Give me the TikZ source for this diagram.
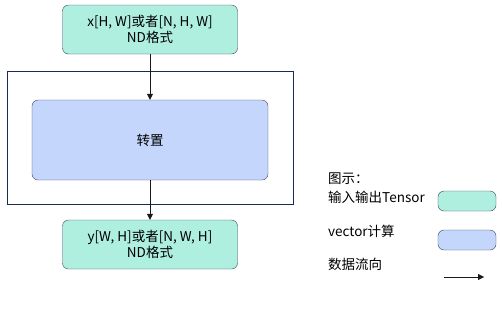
\documentclass[tikz,border=0pt]{standalone}
\usepackage{fontspec}
\setmainfont{Noto Sans CJK SC}
\usetikzlibrary{arrows.meta}

\begin{document}
\begin{tikzpicture}[x=1pt,y=-1pt,font=\fontsize{13.5}{15.5}\selectfont]
  \definecolor{tensorfill}{HTML}{AEEFE0}
  \definecolor{calcfill}{HTML}{C4D6FC}
  \definecolor{framecol}{HTML}{1B2A55}
  \definecolor{boxline}{HTML}{3A4656}
  \tikzset{tensor box/.style={draw=boxline, fill=tensorfill, rounded corners=6, inner sep=0, align=center},
    calc box/.style={draw=boxline, fill=calcfill, rounded corners=6, inner sep=0, align=center},
    flow/.style={-{Triangle[length=6,width=6]}, draw=black!90}}
  \useasboundingbox (0,0) rectangle (502,335);
  \node(frame) at (150,137.5) [draw=framecol, minimum width=286, minimum height=133, inner sep=0] {};
  \node(in) at (150,29.5) [tensor box, minimum width=175, minimum height=49] {x[H, W]或者[N, H, W]\\ND格式};
  \node(tr) at (150,140) [calc box, minimum width=236, minimum height=80] {转置};
  \node(out) at (150,244.5) [tensor box, minimum width=175, minimum height=49] {y[W, H]或者[N, W, H]\\ND格式};
  \draw [flow] (in) -- (tr);
  \draw [flow] (tr) -- (out);
  \node(lg0) at (328,179) [anchor=west, inner sep=0] {图示：};
  \node(lg1) at (328,197) [anchor=west, inner sep=0] {输入输出Tensor};
  \node(lg2) at (328,231) [anchor=west, inner sep=0] {vector计算};
  \node(lg3) at (328,264) [anchor=west, inner sep=0] {数据流向};
  \node(lgt) at (467,201) [tensor box, minimum width=58, minimum height=20] {};
  \node(lgc) at (467,240) [calc box, minimum width=58, minimum height=20] {};
  \coordinate(la) at (444,277);
  \coordinate(lb) at (484,277);
  \draw [flow] (la) -- (lb);
\end{tikzpicture}
\end{document}
